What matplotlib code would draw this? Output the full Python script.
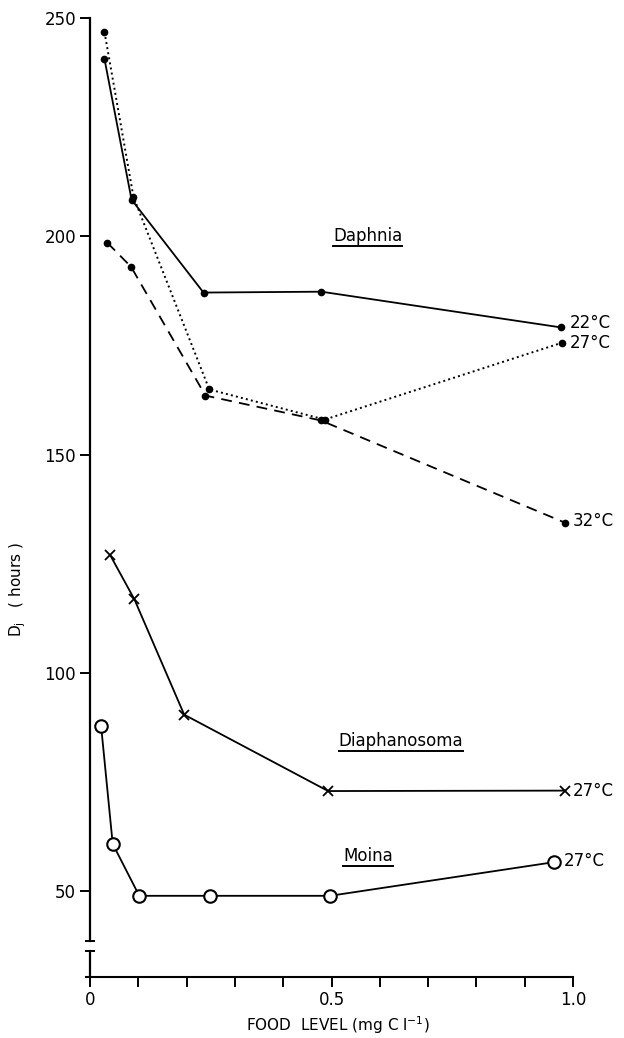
import matplotlib
matplotlib.use("Agg")
import matplotlib.pyplot as plt
from matplotlib.lines import Line2D

plt.rcParams['font.family'] = ['DejaVu Sans']

# ---- data ----
food_daph22 = [0.030, 0.086, 0.235, 0.479, 0.976]
dj_daph22 = [240.6, 208.4, 187.1, 187.3, 179.1]
food_daph27 = [0.030, 0.090, 0.247, 0.486, 0.977]
dj_daph27 = [246.8, 209.0, 164.9, 158.0, 175.6]
food_daph32 = [0.036, 0.085, 0.239, 0.478, 0.983]
dj_daph32 = [198.5, 193.0, 163.5, 157.8, 134.4]
food_diaph = [0.042, 0.092, 0.195, 0.493, 0.983]
dj_diaph = [126.9, 116.8, 90.4, 72.9, 73.0]
food_moina = [0.023, 0.047, 0.102, 0.248, 0.497, 0.960]
dj_moina = [87.8, 60.8, 48.9, 48.9, 48.9, 56.6]

y_ticks = [50, 100, 150, 200, 250]
x_ticks = [0.0, 0.1, 0.2, 0.3, 0.4, 0.5, 0.6, 0.7, 0.8, 0.9, 1.0]
x_tick_labels = ["0", "", "", "", "", "0.5", "", "", "", "", "1.0"]
temp_labels = ["22°C", "27°C", "32°C", "27°C", "27°C"]
species = ["Daphnia", "Diaphanosoma", "Moina"]

W, H = 624, 1038
fig = plt.figure(figsize=(W / 100, H / 100), dpi=100)
ax_l, ax_r, ax_b, ax_t = 90, 573, 977, 18
ax = fig.add_axes([ax_l / W, 1 - ax_b / H, (ax_r - ax_l) / W, (ax_b - ax_t) / H])
ax.set_xlim(0, 1.0)
ax.set_ylim(30.3, 250)

lw = 1.3
k = 'black'
ax.plot(food_daph22, dj_daph22, '-', color=k, lw=lw, marker='o', ms=4.5, clip_on=False)
ax.plot(food_daph27, dj_daph27, ':', color=k, lw=1.4, marker='o', ms=4.5, clip_on=False)
ax.plot(food_daph32, dj_daph32, color=k, lw=lw, marker='o', ms=4.5, clip_on=False,
        linestyle=(0, (6, 4)))
ax.plot(food_diaph, dj_diaph, '-', color=k, lw=lw, marker='x', ms=7, mew=1.3, clip_on=False)
ax.plot(food_moina, dj_moina, '-', color=k, lw=lw, marker='o', ms=9, mfc='white',
        mew=1.5, clip_on=False)

# end-of-line temperature labels
ends = [(food_daph22[-1], dj_daph22[-1]), (food_daph27[-1], dj_daph27[-1]),
        (food_daph32[-1], dj_daph32[-1]), (food_diaph[-1], dj_diaph[-1]),
        (food_moina[-1], dj_moina[-1])]
offs = [(6, 3), (6, 0), (6, 1), (6, 0), (7, 1)]
for (xe, ye), lab, o in zip(ends, temp_labels, offs):
    ax.annotate(lab, (xe, ye), xytext=o, textcoords='offset points',
                ha='left', va='center', fontsize=12, annotation_clip=False)

# species labels (underlined)
sp_pos = [(0.503, 200.0), (0.515, 84.3), (0.524, 58.0)]
sp_texts = []
for name, (xs, ys) in zip(species, sp_pos):
    sp_texts.append(ax.text(xs, ys, name, ha='left', va='center', fontsize=12))

# axes styling
for s in ['top', 'right', 'left']:
    ax.spines[s].set_visible(False)
ax.spines['bottom'].set_linewidth(1.5)
ax.spines['bottom'].set_bounds(-0.008, 1.0)
ax.set_xticks(x_ticks)
ax.set_xticklabels(x_tick_labels, fontsize=12)
ax.set_yticks(y_ticks)
ax.set_yticklabels([str(v) for v in y_ticks], fontsize=12)
ax.tick_params(axis='both', direction='out', length=7, width=1.4, pad=3)

# broken y axis drawn as two pieces
ax.plot([0, 0], [30.3, 36.3], color=k, lw=1.6, clip_on=False)
ax.plot([0, 0], [38.6, 250], color=k, lw=1.6, clip_on=False)
ax.plot([0, 0], [36.3, 38.6], linestyle='none', marker='_', ms=7, mew=1.4,
        color=k, clip_on=False)

ax.set_xlabel("FOOD  LEVEL (mg C l$^{-1}$)", fontsize=11)
ax.xaxis.label.set_va('center')
ax.xaxis.set_label_coords(0.513, -0.050)
ax.set_ylabel("D$_\\mathregular{j}$   ( hours )", fontsize=11)
ax.yaxis.label.set_va('center')
ax.yaxis.set_label_coords(-0.149, 0.404)

fig.canvas.draw()
r = fig.canvas.get_renderer()
for t in sp_texts:
    bb = t.get_window_extent(renderer=r)
    yline = bb.y0 - 1
    fig.add_artist(Line2D([bb.x0 / W, bb.x1 / W], [yline / H, yline / H],
                          color=k, lw=1.4, transform=fig.transFigure))

fig.savefig("out.png", dpi=100, facecolor='white')
